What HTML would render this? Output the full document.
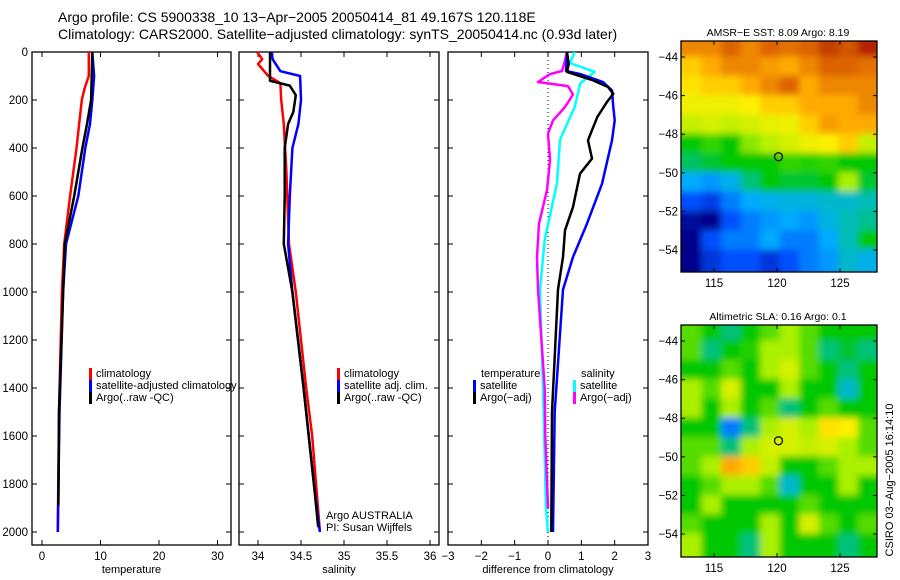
<!DOCTYPE html>
<html><head><meta charset="utf-8"><style>
body{margin:0;background:#fff}
svg{display:block;font-family:"Liberation Sans",sans-serif}
</style></head><body>
<svg id="fig" width="900" height="580" viewBox="0 0 900 580" xmlns="http://www.w3.org/2000/svg">
<defs>
<filter id="blur" x="-10%" y="-10%" width="120%" height="120%"><feGaussianBlur stdDeviation="3.5"/></filter>
<clipPath id="clip1"><rect x="681" y="41" width="196" height="231"/></clipPath>
<clipPath id="clip2"><rect x="681" y="325" width="196" height="232"/></clipPath>
</defs>
<text x="58" y="22" font-size="14">Argo profile: CS 5900338_10 13−Apr−2005 20050414_81 49.167S 120.118E</text>
<text x="58" y="39" font-size="14">Climatology: CARS2000. Satellite−adjusted climatology: synTS_20050414.nc (0.93d later)</text>
<g id="plots"></g>
</svg>
<script>
// ---- profile data (depth in m) ----
const tClimDepth=[0,100,150,200,400,600,800,1000,1500,2000];
const tClimVal=[8.0,8.0,7.3,6.8,5.9,4.8,3.8,3.4,2.9,2.7];
const tSatDepth=[0,100,200,300,400,600,800,1000,1500,2000];
const tSatVal=[8.6,8.9,8.6,8.2,7.4,6.2,4.1,3.6,3.0,2.7];
const tArgoDepth=[0,200,300,400,600,800,1000,1500,1890];
const tArgoVal=[8.6,8.4,7.7,6.9,5.5,3.9,3.6,2.9,2.8];

const sClimDepth=[0,30,50,100,130,200,300,500,800,1000,1400,1600,2000];
const sClimVal=[33.99,34.05,34.0,34.12,34.26,34.27,34.30,34.33,34.36,34.44,34.56,34.63,34.72];
const sSatDepth=[0,30,80,100,200,300,400,600,800,1000,1400,1800,2000];
const sSatVal=[34.16,34.17,34.26,34.49,34.50,34.47,34.40,34.37,34.35,34.40,34.53,34.65,34.72];
const sArgoDepth=[0,120,140,180,250,300,400,600,800,1000,1400,1800,1980];
const sArgoVal=[34.14,34.14,34.37,34.44,34.41,34.35,34.31,34.31,34.30,34.40,34.53,34.65,34.70];

const dTSatDepth=[0,79,92,125,160,229,285,368,549,715,854,990,1500,2000];
const dTSatVal=[0.57,0.54,0.97,1.65,1.92,1.96,2.0,1.92,1.62,1.17,0.75,0.45,0.2,0.15];
const dTArgoDepth=[0,50,83,118,146,174,208,271,326,368,444,507,646,743,854,990,1500,2000];
const dTArgoVal=[0.57,0.62,0.57,1.35,1.8,1.96,1.77,1.48,1.32,1.2,1.32,0.96,0.75,0.51,0.45,0.3,0.12,0.1];
const dSSatDepth=[0,46,83,130,229,366,546,783,990,1400,1900,2000];
const dSSatVal=[0.8,0.66,1.4,0.97,0.8,0.36,0.27,-0.1,-0.24,-0.15,-0.06,0.0];
const dSArgoDepth=[0,40,79,92,125,142,177,229,285,340,450,575,715,854,990,1400,1600,1900];
const dSArgoVal=[0.57,0.5,0.42,0.06,-0.3,0.6,0.75,0.51,0.15,0.0,0.06,-0.03,-0.27,-0.33,-0.3,-0.1,-0.08,0.0];

const depthTicks=[0,200,400,600,800,1000,1200,1400,1600,1800,2000];
const tempTicks=[0,10,20,30];
const salTicks=[34,34.5,35,35.5,36];
const salTickLabels=["34","34.5","35","35.5","36"];
const diffTicks=[-3,-2,-1,0,1,2,3];

// ---- map data (rows -43..-55 lat, cols 112.5..128 lon), colour value 0..10 ----
const sstGrid=[
[8.5,8.5,9,8.5,9,8.8,9,9.5,9.2,9.8],
[7.5,8,8.5,8.5,8.2,8,8.5,9,9,8.8],
[7.2,7.5,7.5,8,8.5,9,8,8.5,8.5,8.5],
[6.8,6.8,6.8,7,7.5,7.5,8,8,8,8.5],
[6.3,6.5,6.3,6.5,6.7,6.8,7.5,8.2,8,8],
[5,5.3,5,5.8,6.2,6.5,6.8,7,7.5,6.3],
[4.6,4.8,5,5,5,5.3,5.2,5.3,5,5],
[3.5,3.3,3.7,4.5,5,4.8,4.8,5,6,4.8],
[2.5,2.2,3,3.5,3.7,3.8,3.8,4,4,4.2],
[1.2,1,2.5,3,3.3,3.5,3.3,3.8,4.2,4.4],
[1,2.5,3,3,3.5,3,3,3.5,4.2,5],
[1,2,2.5,2.5,2,2.5,3,3.3,4,3.7]];
const slaGrid=[
[5.5,5,4.5,5,5.5,6,5.5,5,5,5],
[5.5,4.5,5,5.2,6,6,5.5,4.5,4.8,4.5],
[5,5,5.5,5,6,6.5,5.5,5,4.5,5],
[6,5.5,6.5,5,5,6,5,5,4,5],
[6,5,6,5,5.5,4.5,5,5.5,5,5],
[5,5,3,4.5,6,6.5,6,7.2,7,5.5],
[5.5,5.5,4.5,6,6.5,6.5,6.3,6.5,6,5.5],
[5.5,6,8,7.5,6.3,5,5,5.5,6,6],
[5,5.5,6,6,5.5,4,5,5,6,5],
[5,6,5,5,5,5,5.5,5,5,5],
[5.5,5,5,5,6,5,6.5,5.5,5,5.5],
[6,5,5,4.5,6,5,5,5,4.5,5]];
const lonTicks=[115,120,125];
const latTicks=[-44,-46,-48,-50,-52,-54];
const argoLon=120.118, argoLat=-49.167;

const NS="http://www.w3.org/2000/svg";
const root=document.getElementById('plots');
function el(tag,attrs,parent,txt){const e=document.createElementNS(NS,tag);for(const k in attrs)e.setAttribute(k,attrs[k]);if(txt!==undefined)e.textContent=txt;(parent||root).appendChild(e);return e;}

const yD=d=>52+0.24*d;
const panels=[
 {name:'temperature',x0:32,x1:231,sx:v=>42+5.85*v,ticks:tempTicks,labels:tempTicks.map(String),xl:'temperature'},
 {name:'salinity',x0:239,x1:439,sx:v=>258+86*(v-34),ticks:salTicks,labels:salTickLabels,xl:'salinity'},
 {name:'difference',x0:448,x1:648,sx:v=>548+33.33*v,ticks:diffTicks,labels:diffTicks.map(v=>v<0?'−'+(-v):String(v)),xl:'difference from climatology'}
];
panels.forEach((p,i)=>{
 const g=el('g',{});
 
 
 const fr=el('rect',{x:p.x0,y:52,width:p.x1-p.x0,height:493,fill:'none',stroke:'#000','stroke-width':1.3},g);
 
 
 p.ticks.forEach((t,k)=>{
  const x=p.sx(t);
  el('line',{x1:x,x2:x,y1:52,y2:57,stroke:'#000'},g);
  el('line',{x1:x,x2:x,y1:545,y2:540,stroke:'#000'},g);
  const lb=el('text',{x:x,y:560,'font-size':11.5,'text-anchor':'middle'},g,p.labels[k]);
  
  
 });
 depthTicks.forEach(d=>{
  const y=yD(d);
  el('line',{x1:p.x0,x2:p.x0+5,y1:y,y2:y,stroke:'#000'},g);
  el('line',{x1:p.x1,x2:p.x1-5,y1:y,y2:y,stroke:'#000'},g);
  if(i===0){const lb=el('text',{x:28,y:y+4,'font-size':11.5,'text-anchor':'end'},g,String(d));
   
   }
 });
 const xt=el('text',{x:(p.x0+p.x1)/2,y:573,'font-size':11,'text-anchor':'middle'},g,p.xl);
 
 
});
function line(p,depths,vals,color,name,w){
 const pts=depths.map((d,k)=>p.sx(vals[k]).toFixed(1)+','+yD(d).toFixed(1)).join(' ');
 const l=el('polyline',{points:pts,fill:'none',stroke:color,'stroke-width':w||2.5,'stroke-linejoin':'round'});
 
 
}
const P=panels;
const z=el('line',{x1:P[2].sx(0),x2:P[2].sx(0),y1:52,y2:545,stroke:'#000','stroke-width':1,'stroke-dasharray':'1,3'});


line(P[0],tClimDepth,tClimVal,'#f00','temperature-climatology-line');
line(P[0],tSatDepth,tSatVal,'#00f','temperature-satellite-line');
line(P[0],tArgoDepth,tArgoVal,'#000','temperature-argo-line');
line(P[1],sClimDepth,sClimVal,'#f00','salinity-climatology-line');
line(P[1],sSatDepth,sSatVal,'#00f','salinity-satellite-line');
line(P[1],sArgoDepth,sArgoVal,'#000','salinity-argo-line');
line(P[2],dSSatDepth,dSSatVal,'#0ff','diff-salinity-satellite-line');
line(P[2],dSArgoDepth,dSArgoVal,'#f0f','diff-salinity-argo-line');
line(P[2],dTSatDepth,dTSatVal,'#00f','diff-temperature-satellite-line');
line(P[2],dTArgoDepth,dTArgoVal,'#000','diff-temperature-argo-line');

function legend(x,y,color,label,name){
 const g=el('g',{});
 
 
 if(color)el('rect',{x:x,y:y-8,width:3,height:12,fill:color},g);
 el('text',{x:x+7,y:y+1,'font-size':11},g,label);
}
legend(89,376,'#f00','climatology','legend-climatology');
legend(89,388,'#00f','satellite-adjusted climatology','legend-satellite-adjusted');
legend(89,400,'#000','Argo(..raw -QC)','legend-argo');
legend(337,376,'#f00','climatology','legend-sal-climatology');
legend(337,388,'#00f','satellite adj. clim.','legend-sal-satellite');
legend(337,400,'#000','Argo(..raw -QC)','legend-sal-argo');
legend(474,376,null,'temperature','legend-temperature-heading');
legend(473,388,'#00f','satellite','legend-temp-satellite');
legend(473,400,'#000','Argo(−adj)','legend-temp-argo');
legend(574,376,null,'salinity','legend-salinity-heading');
legend(573,388,'#0ff','satellite','legend-sal-sat-diff');
legend(573,400,'#f0f','Argo(−adj)','legend-sal-argo-diff');
const cr1=el('text',{x:326,y:519,'font-size':11},root,'Argo AUSTRALIA');


const cr2=el('text',{x:326,y:531,'font-size':11},root,'PI: Susan Wijffels');



// ---- maps ----
const palStops=[[1,[0,0,140]],[2.5,[0,80,255]],[3.5,[0,170,255]],[4.3,[0,190,170]],[5,[0,200,0]],[6,[170,240,0]],[7,[255,240,0]],[8,[255,170,0]],[9,[220,100,0]],[10,[170,20,0]]];
function pal(v){
 if(v<=palStops[0][0])return `rgb(${palStops[0][1].join(',')})`;
 for(let i=1;i<palStops.length;i++){if(v<=palStops[i][0]){const a=palStops[i-1],b=palStops[i],t=(v-a[0])/(b[0]-a[0]);
  return `rgb(${a[1].map((c,k)=>Math.round(c+(b[1][k]-c)*t)).join(',')})`;}}
 return `rgb(${palStops[palStops.length-1][1].join(',')})`;
}
function map(grid,top,bottom,latTop,latScale,clip,title,name){
 const lx=lon=>714+12.6*(lon-115), ly=lat=>top+(latTop-lat)*latScale;
 const g=el('g',{});
 
 
 const cg=el('g',{'clip-path':`url(#${clip})`},g);
 const bg=el('g',{filter:'url(#blur)'},cg);
 const nr=grid.length,nc=grid[0].length;
 const lon0=112.5,dlon=15.5/nc,lat0=-43,dlat=12/nr;
 for(let r=-1;r<=nr;r++)for(let c=-1;c<=nc;c++){
  const rr=Math.max(0,Math.min(nr-1,r)),cc=Math.max(0,Math.min(nc-1,c));
  const x=lx(lon0+c*dlon),y=ly(lat0-r*dlat);
  const cell=el('rect',{x:x-0.5,y:y-0.5,width:12.6*dlon+1,height:latScale*dlat+1,fill:pal(grid[rr][cc])},bg);
  
  
 }
 el('rect',{x:681,y:top,width:196,height:bottom-top,fill:'none',stroke:'#000','stroke-width':1.3},g);
 lonTicks.forEach(lon=>{const x=lx(lon);
  el('line',{x1:x,x2:x,y1:top,y2:top+4,stroke:'#000'},g);
  el('line',{x1:x,x2:x,y1:bottom,y2:bottom-4,stroke:'#000'},g);
  el('text',{x:x,y:bottom+15,'font-size':11.5,'text-anchor':'middle'},g,String(lon));});
 latTicks.forEach(lat=>{const y=ly(lat);
  el('line',{x1:681,x2:685,y1:y,y2:y,stroke:'#000'},g);
  el('line',{x1:877,x2:873,y1:y,y2:y,stroke:'#000'},g);
  el('text',{x:678,y:y+4,'font-size':11.5,'text-anchor':'end'},g,'−'+(-lat));});
 const c=el('circle',{cx:lx(argoLon),cy:ly(argoLat),r:4,fill:'none',stroke:'#000','stroke-width':1.2},g);
 
 
 const t=el('text',{x:778,y:top-5,'font-size':10.5,'text-anchor':'middle'},g,title);
 
 
}
map(sstGrid,41,272,-43.17,19.3,'clip1','AMSR−E SST: 8.09 Argo: 8.19','sst-map');
map(slaGrid,325,557,-43.17,19.3,'clip2','Altimetric SLA: 0.16 Argo: 0.1','sla-map');
const cs=el('text',{x:0,y:0,'font-size':11,'text-anchor':'middle',transform:'translate(893,480) rotate(-90)'},root,'CSIRO 03−Aug−2005 16:14:10');


</script>
</body></html>
